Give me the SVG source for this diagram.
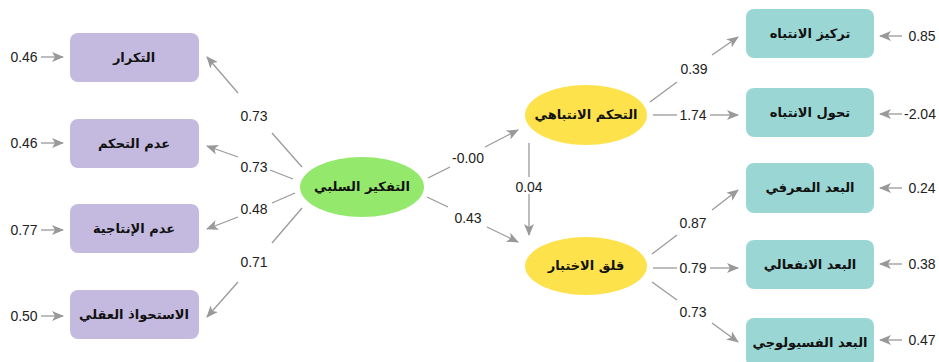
<svg xmlns="http://www.w3.org/2000/svg" width="939" height="362" viewBox="0 0 939 362">
<defs>
<marker id="ah" viewBox="0 0 12 10" refX="11" refY="5" markerWidth="12" markerHeight="10" markerUnits="userSpaceOnUse" orient="auto">
<path d="M0,0 L12,5 L0,10 L3,5 Z" fill="#999"/>
</marker>
<style>
.ind{fill:#c4badf;}
.dep{fill:#9ad7d4;}
.lbl{font-family:"DejaVu Sans","Noto Sans",sans-serif;font-weight:bold;font-size:13px;fill:#111;text-anchor:middle;dominant-baseline:central;}
.num{font-family:"Liberation Sans",Arial,sans-serif;font-size:14px;fill:#222;text-anchor:middle;dominant-baseline:central;}
.ln{stroke:#9a9a9a;stroke-width:1.3;fill:none;}
.ar{stroke:#9a9a9a;stroke-width:1.3;fill:none;marker-end:url(#ah);}
</style>
</defs>
<rect width="939" height="362" fill="#fff"/>

<g id="n_takrar"><rect class="ind" x="70" y="33" width="129" height="49" rx="8"/><text class="lbl" x="134" y="57">التكرار</text></g>
<g id="n_adam_tahakkum"><rect class="ind" x="70" y="119" width="129" height="49" rx="8"/><text class="lbl" x="134" y="143">عدم التحكم</text></g>
<g id="n_adam_intajia"><rect class="ind" x="70" y="204" width="129" height="49" rx="8"/><text class="lbl" x="134" y="228">عدم الإنتاجية</text></g>
<g id="n_istihwath"><rect class="ind" x="70" y="290" width="129" height="49" rx="8"/><text class="lbl" x="134" y="314">الاستحواذ العقلي</text></g>

<g id="n_tafkir"><ellipse cx="362" cy="187" rx="62" ry="30" fill="#94e86c"/><text class="lbl" x="362" y="186">التفكير السلبي</text></g>
<g id="n_tahakkum"><ellipse cx="586" cy="115" rx="61" ry="30" fill="#fde24b"/><text class="lbl" x="586" y="114">التحكم الانتباهي</text></g>
<g id="n_qalaq"><ellipse cx="586" cy="266" rx="61" ry="29" fill="#fde24b"/><text class="lbl" x="586" y="265">قلق الاختبار</text></g>

<g id="n_tarkiz"><rect class="dep" x="746" y="9" width="128" height="49" rx="8"/><text class="lbl" x="810" y="33">تركيز الانتباه</text></g>
<g id="n_tahawwul"><rect class="dep" x="746" y="88" width="128" height="49" rx="8"/><text class="lbl" x="810" y="112">تحول الانتباه</text></g>
<g id="n_marifi"><rect class="dep" x="746" y="163" width="128" height="50" rx="8"/><text class="lbl" x="810" y="187">البعد المعرفي</text></g>
<g id="n_infiali"><rect class="dep" x="746" y="240" width="128" height="49" rx="8"/><text class="lbl" x="810" y="264">البعد الانفعالي</text></g>
<g id="n_fisiologi"><rect class="dep" x="746" y="318" width="128" height="49" rx="8"/><text class="lbl" x="810" y="342">البعد الفسيولوجي</text></g>

<g id="connectors">
<!-- left error terms -->
<line class="ar" x1="41" y1="57" x2="63" y2="57"/><text class="num" x="24" y="57">0.46</text>
<line class="ar" x1="41" y1="143" x2="63" y2="143"/><text class="num" x="24" y="143">0.46</text>
<line class="ar" x1="41" y1="230" x2="63" y2="230"/><text class="num" x="24" y="230">0.77</text>
<line class="ar" x1="41" y1="316" x2="63" y2="316"/><text class="num" x="24" y="316">0.50</text>

<!-- green to left boxes -->
<line class="ln" x1="302" y1="167" x2="272" y2="133"/><line class="ar" x1="238" y1="93" x2="207" y2="57"/><text class="num" x="254" y="116">0.73</text>
<line class="ln" x1="293" y1="179" x2="270" y2="170"/><line class="ar" x1="238" y1="157" x2="207" y2="146"/><text class="num" x="254" y="167">0.73</text>
<line class="ln" x1="295" y1="193" x2="272" y2="203"/><line class="ar" x1="238" y1="217" x2="207" y2="229"/><text class="num" x="254" y="209">0.48</text>
<line class="ln" x1="302" y1="208" x2="272" y2="243"/><line class="ar" x1="238" y1="282" x2="207" y2="317"/><text class="num" x="254" y="262">0.71</text>

<!-- green to yellows -->
<line class="ln" x1="428" y1="178" x2="450" y2="167"/><line class="ar" x1="485" y1="147" x2="518" y2="130"/><text class="num" x="468" y="158">-0.00</text>
<line class="ln" x1="427" y1="197" x2="448" y2="207"/><line class="ar" x1="487" y1="227" x2="518" y2="242"/><text class="num" x="468" y="218">0.43</text>
<line class="ln" x1="529" y1="143" x2="529" y2="177"/><line class="ar" x1="529" y1="194" x2="529" y2="235"/><text class="num" x="529" y="187">0.04</text>

<!-- yellow1 to right boxes -->
<line class="ln" x1="650" y1="102" x2="677" y2="82"/><line class="ar" x1="712" y1="55" x2="738" y2="37"/><text class="num" x="694" y="69">0.39</text>
<line class="ln" x1="653" y1="115" x2="677" y2="115"/><line class="ar" x1="710" y1="115" x2="738" y2="115"/><text class="num" x="693" y="115">1.74</text>

<!-- yellow2 to right boxes -->
<line class="ln" x1="652" y1="254" x2="677" y2="235"/><line class="ar" x1="712" y1="210" x2="738" y2="190"/><text class="num" x="693" y="223">0.87</text>
<line class="ln" x1="653" y1="268" x2="677" y2="268"/><line class="ar" x1="710" y1="268" x2="738" y2="268"/><text class="num" x="693" y="268">0.79</text>
<line class="ln" x1="652" y1="282" x2="677" y2="300"/><line class="ar" x1="712" y1="323" x2="738" y2="342"/><text class="num" x="693" y="312">0.73</text>

<!-- right error terms -->
<line class="ar" x1="902" y1="36" x2="880" y2="36"/><text class="num" x="922" y="36">0.85</text>
<line class="ar" x1="902" y1="114" x2="880" y2="114"/><text class="num" x="920" y="114">-2.04</text>
<line class="ar" x1="902" y1="188" x2="880" y2="188"/><text class="num" x="922" y="188">0.24</text>
<line class="ar" x1="902" y1="264" x2="880" y2="264"/><text class="num" x="922" y="264">0.38</text>
<line class="ar" x1="902" y1="340" x2="880" y2="340"/><text class="num" x="922" y="340">0.47</text>
</g>
</svg>
